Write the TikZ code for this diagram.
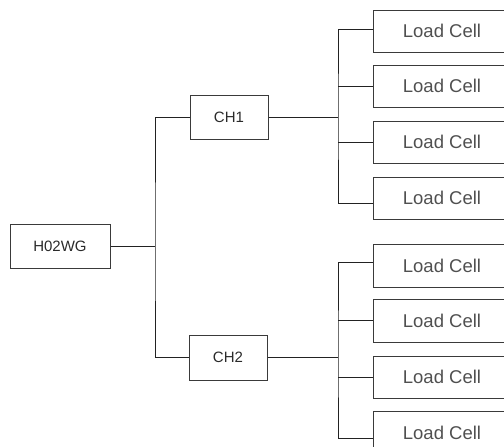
\documentclass[tikz,border=0pt]{standalone}
\usepackage{fontspec}
\setmainfont{Liberation Sans}
\definecolor{linec}{HTML}{222222}
\definecolor{boxc}{HTML}{3A3A3A}
\definecolor{txtc}{HTML}{2A2A2A}
\definecolor{lctxt}{HTML}{505050}
\begin{document}
\begin{tikzpicture}[x=1pt,y=-1pt,
  conn/.style={draw=linec,line width=1pt},
  unitbox/.style={draw=boxc,line width=1pt,inner sep=0pt,text=txtc,font=\fontsize{15}{17}\selectfont},
  cellbox/.style={draw=boxc,line width=1pt,inner sep=0pt,minimum width=138pt,minimum height=42pt,text=lctxt,font=\fontsize{18.5}{20}\selectfont}]
\useasboundingbox (0,0) rectangle (504,447);
\clip (0,0) rectangle (504,447);
\node[unitbox,minimum width=100pt,minimum height=44pt] (h) at (60,246) {H02WG};
\node[unitbox,minimum width=78pt,minimum height=44pt] (ch1) at (229,117) {CH1};
\node[unitbox,minimum width=78pt,minimum height=45pt] (ch2) at (228,357.5) {CH2};
\node[cellbox] (a1) at (442,31) {Load Cell};
\node[cellbox] (a2) at (442,86) {Load Cell};
\node[cellbox] (a3) at (442,142) {Load Cell};
\node[cellbox] (a4) at (442,198) {Load Cell};
\node[cellbox,minimum height=43pt] (b1) at (442,265.5) {Load Cell};
\node[cellbox,minimum height=43pt] (b2) at (442,320.5) {Load Cell};
\node[cellbox,minimum height=42pt] (b3) at (442,377) {Load Cell};
\node[cellbox,minimum height=43pt] (b4) at (442,432.5) {Load Cell};
\coordinate (hj) at (155,246);
\coordinate (j1) at (338,117);
\coordinate (j2) at (338,357.5);
\draw[conn] (h.east) -- (hj);
\draw[conn] (ch1.west) -| (hj) |- (ch2.west);
\draw[conn] (ch1.east) -- (j1);
\draw[conn] (ch2.east) -- (j2);
\draw[conn] ([yshift=2pt]a1.west) -| (j1) |- ([yshift=-5pt]a4.west);
\draw[conn] (j1 |- a2.west) -- (a2.west);
\draw[conn] (j1 |- a3.west) -- (a3.west);
\draw[conn] ([yshift=3pt]b1.west) -| (j2) |- ([yshift=-5.5pt]b4.west);
\draw[conn] (j2 |- b2.west) -- (b2.west);
\draw[conn] (j2 |- b3.west) -- (b3.west);
\end{tikzpicture}
\end{document}
